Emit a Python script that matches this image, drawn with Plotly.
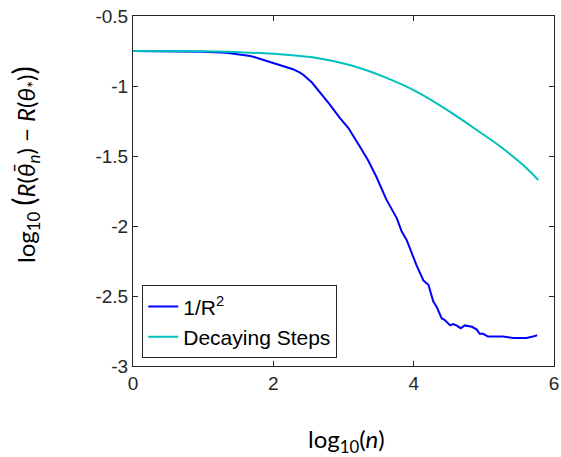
import plotly.graph_objects as go

# 1/R^2 series (log10 n, log10 excess risk)
x_r2 = [0.0, 0.5, 1.0, 1.33, 1.67, 1.76, 1.90, 2.10, 2.28, 2.38, 2.43, 2.55, 2.66, 2.80, 2.95, 3.07,
        3.23, 3.35, 3.47, 3.61, 3.76, 3.83, 3.90, 3.95, 4.04, 4.14, 4.21, 4.28, 4.33, 4.40, 4.44,
        4.52, 4.56, 4.61, 4.67, 4.73, 4.83, 4.90, 4.94, 4.99, 5.06, 5.18, 5.27, 5.42, 5.51, 5.61,
        5.70, 5.76]
y_r2 = [-0.75, -0.751, -0.755, -0.762, -0.786, -0.798, -0.819, -0.85, -0.88, -0.905, -0.921, -0.975,
        -1.04, -1.13, -1.23, -1.30, -1.43, -1.53, -1.65, -1.81, -1.945, -2.04, -2.10, -2.17, -2.28,
        -2.39, -2.42, -2.54, -2.58, -2.66, -2.67, -2.71, -2.70, -2.71, -2.73, -2.71, -2.72, -2.74,
        -2.77, -2.77, -2.79, -2.79, -2.79, -2.80, -2.80, -2.80, -2.79, -2.78]

# Decaying Steps series
x_ds = [0.0, 1.0, 1.67, 2.09, 2.62, 3.09, 3.57, 4.04, 4.52, 4.945, 5.23, 5.56, 5.776]
y_ds = [-0.75, -0.752, -0.762, -0.774, -0.80, -0.85, -0.933, -1.04, -1.185, -1.33, -1.43,
        -1.565, -1.671]

x_ticks = [0, 2, 4, 6]
y_ticks = [-3, -2.5, -2, -1.5, -1, -0.5]
y_tick_labels = ["-3", "-2.5", "-2", "-1.5", "-1", "-0.5"]

fig = go.Figure()
fig.add_trace(go.Scatter(x=x_r2, y=y_r2, mode="lines", name="1/R<sup>2</sup>",
                         line=dict(color="#0000ff", width=2)))
fig.add_trace(go.Scatter(x=x_ds, y=y_ds, mode="lines", name="Decaying Steps",
                         line=dict(color="#00bfbf", width=2, shape="spline", smoothing=0.8)))

axis_common = dict(showgrid=False, zeroline=False, showline=True, linecolor="#262626",
                   linewidth=1, mirror="ticks", ticks="inside", ticklen=5, tickcolor="#262626",
                   ticklabeloverflow="allow", automargin=False,
                   tickfont=dict(family="Liberation Sans", size=19, color="#262626"))

fig.update_xaxes(range=[0, 6], tickvals=x_ticks, ticktext=[str(v) for v in x_ticks], **axis_common)
fig.update_yaxes(range=[-3, -0.5], tickvals=y_ticks, ticktext=y_tick_labels, **axis_common)

big = '<span style="font-size:31px">'
ytitle = ("log<sub>10</sub> " + big + "(</span><i>R</i>(<i>θ̄</i><sub><i>n</i></sub>) − "
          "<i>R</i>(<i>θ</i><sub>*</sub>)" + big + ")</span>")

fig.update_layout(
    width=561, height=457,
    margin=dict(l=133, r=7, t=16, b=91),
    plot_bgcolor="white", paper_bgcolor="white",
    showlegend=True,
    legend=dict(x=0.022, y=0.022, xanchor="left", yanchor="bottom",
                bordercolor="#262626", borderwidth=1, bgcolor="white",
                font=dict(family="Liberation Sans", size=21, color="black"),
                tracegroupgap=0, itemwidth=30),
    annotations=[
        dict(text="log<sub>10</sub>(<i>n</i>)", xref="paper", yref="paper",
             x=(346 - 133) / 421, y=(366 - 440) / 350, xanchor="center", yanchor="middle",
             showarrow=False, font=dict(family="Lato", size=24, color="black")),
        dict(text=ytitle,
             xref="paper", yref="paper", x=(24 - 133) / 421, y=(366 - 165) / 350,
             xanchor="center", yanchor="middle", textangle=-90, showarrow=False,
             font=dict(family="Lato", size=24, color="black")),
    ],
)

fig.write_html("out.html", config={"displayModeBar": False},
               post_script="document.body.style.margin='0';document.body.style.overflow='hidden';")
